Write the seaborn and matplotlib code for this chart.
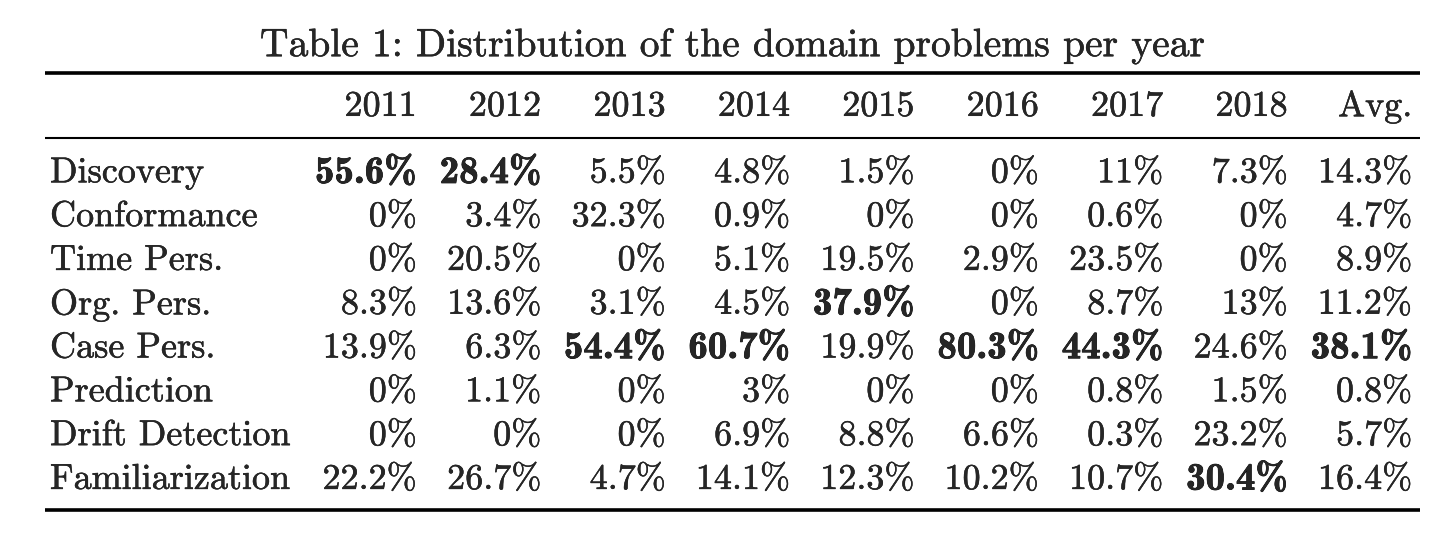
import matplotlib
matplotlib.use("Agg")
import matplotlib.pyplot as plt
import matplotlib.patheffects as pe
import seaborn as sns
import numpy as np

# ---- data ----
title = "Table 1: Distribution of the domain problems per year"
columns = ["2011", "2012", "2013", "2014", "2015", "2016", "2017", "2018", "Avg."]
rows = ["Discovery", "Conformance", "Time Pers.", "Org. Pers.", "Case Pers.",
        "Prediction", "Drift Detection", "Familiarization"]
discovery = [55.6, 28.4, 5.5, 4.8, 1.5, 0, 11, 7.3, 14.3]
conformance = [0, 3.4, 32.3, 0.9, 0, 0, 0.6, 0, 4.7]
time_pers = [0, 20.5, 0, 5.1, 19.5, 2.9, 23.5, 0, 8.9]
org_pers = [8.3, 13.6, 3.1, 4.5, 37.9, 0, 8.7, 13, 11.2]
case_pers = [13.9, 6.3, 54.4, 60.7, 19.9, 80.3, 44.3, 24.6, 38.1]
prediction = [0, 1.1, 0, 3, 0, 0, 0.8, 1.5, 0.8]
drift_detection = [0, 0, 0, 6.9, 8.8, 6.6, 0.3, 23.2, 5.7]
familiarization = [22.2, 26.7, 4.7, 14.1, 12.3, 10.2, 10.7, 30.4, 16.4]

values = np.array([discovery, conformance, time_pers, org_pers, case_pers,
                   prediction, drift_detection, familiarization])

# ---- style ----
sns.set_theme(style="white")
plt.rcParams["font.family"] = ["cmr10", "DejaVu Serif"]

fig = plt.figure(figsize=(14.5, 5.34), dpi=100)
ax = fig.add_axes([0, 0, 1, 1])
ax.set_xlim(0, 1450)
ax.set_ylim(534, 0)
ax.axis("off")

# layout constants
left, right = 45, 1420
label_x = 50
col_right0, col_step = 417, 124.4
header_y = 107
row_y0, row_step = 173.5, 43.8
body_fs = 26
title_fs = 28.5
reg_fx = [pe.withStroke(linewidth=0.3, foreground="black")]
bold_fx = [pe.withStroke(linewidth=0.5, foreground="black")]

ax.text((left + right) / 2, 46, title, ha="center", va="center",
        fontsize=title_fs, family="cmr10", path_effects=reg_fx)

ax.hlines(73, left, right, color="black", lw=2.6)
ax.hlines(138, left, right, color="black", lw=1.5)
ax.hlines(510, left, right, color="black", lw=2.6)

for j, c in enumerate(columns):
    ax.text(col_right0 + j * col_step, header_y, c, ha="right", va="center",
            fontsize=body_fs, family="cmr10", path_effects=reg_fx)

col_max = values.max(axis=0)
for i, r in enumerate(rows):
    y = row_y0 + i * row_step
    ax.text(label_x, y, r, ha="left", va="center", fontsize=body_fs,
            family="cmr10", path_effects=reg_fx)
    for j in range(len(columns)):
        v = values[i, j]
        s = f"{v:g}%"
        bold = v == col_max[j]
        ax.text(col_right0 + j * col_step, y, s, ha="right", va="center",
                fontsize=body_fs * 1.08 if bold else body_fs,
                family="cmb10" if bold else "cmr10",
                path_effects=bold_fx if bold else reg_fx)

fig.savefig("out.png", dpi=100, facecolor="white")
